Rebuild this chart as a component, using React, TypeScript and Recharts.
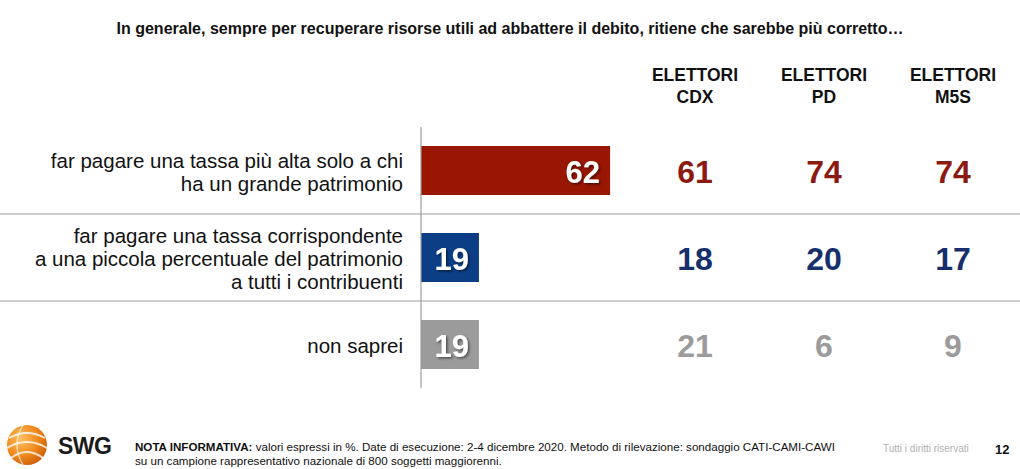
import { Bar, BarChart, Cell, LabelList, XAxis, YAxis } from 'recharts'

const labelLines = [
  ['far pagare una tassa più alta solo a chi', 'ha un grande patrimonio'],
  ['far pagare una tassa corrispondente', 'a una piccola percentuale del patrimonio', 'a tutti i contribuenti'],
  ['non saprei'],
]
const totale = [62, 19, 19]
const elettoriCdx = [61, 18, 21]
const elettoriPd = [74, 20, 6]
const elettoriM5s = [74, 17, 9]
const columnHeaders = [
  ['ELETTORI', 'CDX'],
  ['ELETTORI', 'PD'],
  ['ELETTORI', 'M5S'],
]

const barColors = ['#991600', '#0c3e86', '#9b9b9b']
const numberColors = ['#8c1a10', '#17306b', '#9b9b9b']
const columnX = [695, 824, 953]
const columns = [elettoriCdx, elettoriPd, elettoriM5s]

const W = 1020
const H = 469
const M = { top: 127, right: 294, bottom: 81, left: 0 }
const BAND = (H - M.top - M.bottom) / totale.length
const FONT = '"Liberation Sans", Arial, Helvetica, sans-serif'

const data = labelLines.map((lines, i) => ({
  name: lines.join(' '),
  totale: totale[i],
}))

// eslint-disable-next-line @typescript-eslint/no-explicit-any
function RowTick(props: any) {
  const { y, index } = props
  const lines: string[] = labelLines[index] ?? []
  const lh = 23
  const startY = y - ((lines.length - 1) * lh) / 2
  return (
    <g>
      {lines.map((l, k) => (
        <text
          key={k}
          x={403}
          y={startY + k * lh + 1}
          textAnchor="end"
          dominantBaseline="central"
          fontSize={20.5}
          fill="#111"
          fontFamily={FONT}
        >
          {l}
        </text>
      ))}
      {index < totale.length - 1 && (
        <line x1={0} x2={W} y1={y + BAND / 2} y2={y + BAND / 2} stroke="#9d9d9d" strokeWidth={1.2} />
      )}
      {columns.map((col, c) => (
        <text
          key={'c' + c}
          x={columnX[c]}
          y={y + 1.5}
          textAnchor="middle"
          dominantBaseline="central"
          fontSize={32}
          fontWeight="bold"
          fill={numberColors[index]}
          fontFamily={FONT}
        >
          {col[index]}
        </text>
      ))}
    </g>
  )
}

// eslint-disable-next-line @typescript-eslint/no-explicit-any
function BarValue(props: any) {
  const { x, y, width, height, value } = props
  return (
    <text
      x={x + width - 10}
      y={y + height / 2 + 1.5}
      textAnchor="end"
      dominantBaseline="central"
      fontSize={31}
      fontWeight="bold"
      fill="#fff"
      fontFamily={FONT}
      filter="url(#txtShadow)"
    >
      {value}
    </text>
  )
}

function Logo() {
  return (
    <svg width={50} height={50} style={{ position: 'absolute', left: 3, top: 420 }}>
      <defs>
        <radialGradient id="orb" cx="35%" cy="35%" r="70%">
          <stop offset="0%" stopColor="#ffc060" />
          <stop offset="60%" stopColor="#f08a1c" />
          <stop offset="100%" stopColor="#d0600a" />
        </radialGradient>
      </defs>
      <circle cx={24} cy={25} r={20} fill="url(#orb)" />
      <path d="M6 18 Q24 8 42 18" stroke="#fff" strokeWidth={2} fill="none" opacity={0.8} />
      <path d="M4 28 Q24 16 44 28" stroke="#fff" strokeWidth={2} fill="none" opacity={0.8} />
      <path d="M8 38 Q24 26 40 38" stroke="#fff" strokeWidth={2} fill="none" opacity={0.8} />
      <path d="M20 5 Q8 25 20 45" stroke="#fff" strokeWidth={1.5} fill="none" opacity={0.6} />
    </svg>
  )
}

export default function App() {
  return (
    <div
      style={{
        position: 'absolute',
        left: 0,
        top: 0,
        width: W,
        height: H,
        background: '#fff',
        fontFamily: FONT,
        overflow: 'hidden',
      }}
    >
      <div
        style={{
          position: 'absolute',
          top: 20,
          left: 0,
          width: W,
          textAlign: 'center',
          fontSize: 16,
          fontWeight: 'bold',
          color: '#111',
        }}
      >
        In generale, sempre per recuperare risorse utili ad abbattere il debito, ritiene che sarebbe più corretto…
      </div>
      {columnHeaders.map((h, c) => (
        <div
          key={c}
          style={{
            position: 'absolute',
            top: 64,
            left: columnX[c] - 60,
            width: 120,
            textAlign: 'center',
            fontSize: 17.5,
            fontWeight: 'bold',
            lineHeight: '22px',
            color: '#111',
          }}
        >
          {h[0]}
          <br />
          {h[1]}
        </div>
      ))}
      <div style={{ position: 'absolute', top: 0, left: 0 }}>
        <BarChart width={W} height={H} data={data} layout="vertical" margin={M} barCategoryGap={0}>
          <defs>
            <filter id="txtShadow" x="-20%" y="-20%" width="140%" height="140%">
              <feDropShadow dx={1.5} dy={1.5} stdDeviation={1} floodColor="#000" floodOpacity={0.5} />
            </filter>
          </defs>
          <XAxis type="number" domain={[0, 100]} hide />
          <YAxis
            type="category"
            dataKey="name"
            width={421}
            axisLine={{ stroke: '#9d9d9d', strokeWidth: 1.2 }}
            tickLine={false}
            tick={<RowTick />}
            interval={0}
          />
          <Bar dataKey="totale" barSize={49} isAnimationActive={false}>
            {data.map((_, i) => (
              <Cell key={i} fill={barColors[i]} />
            ))}
            <LabelList dataKey="totale" content={<BarValue />} />
          </Bar>
        </BarChart>
      </div>
      <Logo />
      <div
        style={{
          position: 'absolute',
          left: 58,
          top: 433,
          fontSize: 23,
          fontWeight: 'bold',
          color: '#1a1a1a',
          letterSpacing: -0.5,
        }}
      >
        SWG
      </div>
      <div
        style={{
          position: 'absolute',
          left: 135,
          top: 440,
          fontSize: 11.6,
          lineHeight: '13.5px',
          color: '#111',
        }}
      >
        <b>NOTA INFORMATIVA:</b> valori espressi in %. Date di esecuzione: 2-4 dicembre 2020. Metodo di rilevazione:
        sondaggio CATI-CAMI-CAWI
        <br />
        su un campione rappresentativo nazionale di 800 soggetti maggiorenni.
      </div>
      <div style={{ position: 'absolute', left: 883, top: 443, fontSize: 10, color: '#b0b0b0' }}>
        Tutti i diritti riservati
      </div>
      <div style={{ position: 'absolute', left: 995, top: 442, fontSize: 13, fontWeight: 'bold', color: '#111' }}>
        12
      </div>
    </div>
  )
}
